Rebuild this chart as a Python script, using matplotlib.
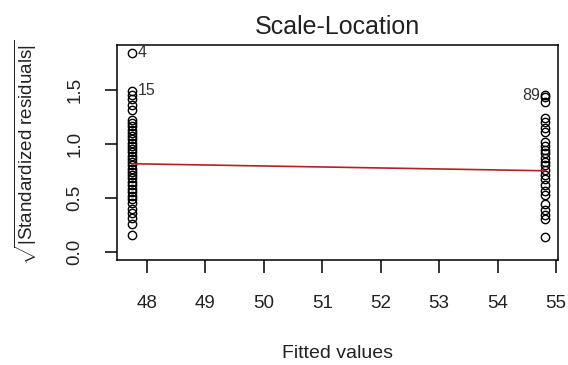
import matplotlib
matplotlib.use("Agg")
from matplotlib import pyplot as plt

plt.rcParams['font.family'] = ['Liberation Sans', 'DejaVu Sans']
plt.rcParams['mathtext.fontset'] = 'custom'
plt.rcParams['mathtext.rm'] = 'Liberation Sans'
plt.rcParams['mathtext.it'] = 'Liberation Sans'

# fitted values of the two groups
fitted_left = 47.75
fitted_right = 54.82

# sqrt(|standardized residuals|)
resid_left = [1.84, 1.49, 1.45, 1.41, 1.36, 1.31, 1.22, 1.19, 1.16, 1.13,
              1.10, 1.07, 1.04, 1.01, 0.98, 0.95, 0.92, 0.89, 0.86, 0.83,
              0.80, 0.77, 0.74, 0.71, 0.68, 0.65, 0.62, 0.58, 0.55, 0.52,
              0.49, 0.45, 0.40, 0.36, 0.31, 0.26, 0.16]
resid_right = [1.45, 1.43, 1.39, 1.24, 1.20, 1.15, 1.11, 1.02, 0.98, 0.94,
               0.91, 0.87, 0.83, 0.80, 0.76, 0.71, 0.67, 0.62, 0.56, 0.53,
               0.44, 0.39, 0.34, 0.30, 0.14]

# smoother line
smooth_x = [47.75, 54.82]
smooth_y = [0.815, 0.75]

# labelled points: (label, x, y, side)
labels = [('4', fitted_left, 1.84, 'right'),
          ('15', fitted_left, 1.49, 'right'),
          ('89', fitted_right, 1.45, 'left')]

xticks = [48, 49, 50, 51, 52, 53, 54, 55]
yticks = [0.0, 0.5, 1.0, 1.5]

txt_col = '#222222'

fig = plt.figure(figsize=(5.68, 3.65), dpi=100)
ax = fig.add_axes([0.206, 0.288, 0.776, 0.589])

ax.plot([fitted_left] * len(resid_left), resid_left, 'o', mfc='none',
        mec='black', ms=6, mew=1)
ax.plot([fitted_right] * len(resid_right), resid_right, 'o', mfc='none',
        mec='black', ms=6, mew=1)
ax.plot(smooth_x, smooth_y, color='#b22222', lw=1.2)

for txt, x, y, side in labels:
    dx = 0.09 if side == 'right' else -0.09
    ax.text(x + dx, y, txt, ha='left' if side == 'right' else 'right',
            va='center', fontsize=11.5, color='#333333')

ax.set_xlim(47.49, 55.03)
ax.set_ylim(-0.074, 1.914)
ax.set_xticks(xticks)
ax.set_yticks(yticks)
ax.set_xticklabels([str(t) for t in xticks])
ax.set_yticklabels(['%.1f' % t for t in yticks], rotation=90, va='center')
ax.tick_params(axis='both', length=9, width=1.1, labelsize=13.5,
               labelcolor=txt_col)
ax.tick_params(axis='x', pad=16)
ax.tick_params(axis='y', pad=15)
for s in ax.spines.values():
    s.set_linewidth(1.1)

ax.set_title('Scale-Location', fontsize=18, pad=8, color=txt_col)
ax.set_xlabel('Fitted values', fontsize=14, labelpad=24, color=txt_col)
ax.set_ylabel(r'$\sqrt{|\mathrm{Standardized\ residuals}|}$', fontsize=13.5,
              labelpad=20, color=txt_col)

plt.savefig('out.png', dpi=100)
